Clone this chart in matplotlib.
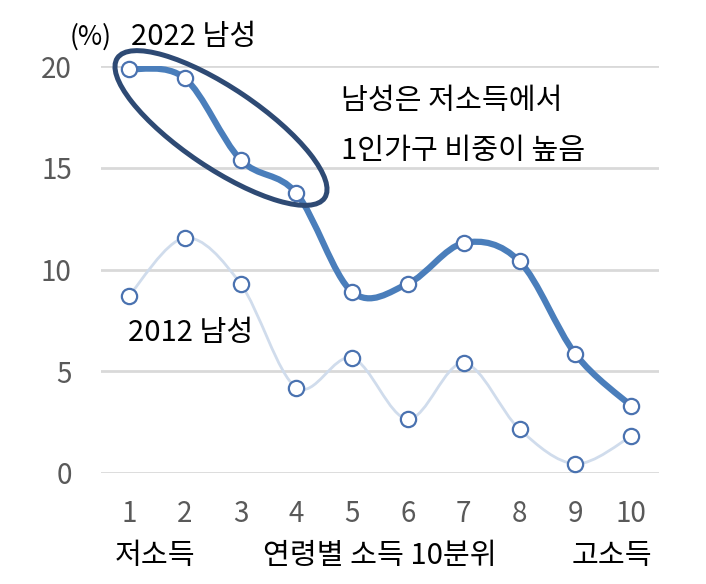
import numpy as np
import matplotlib.pyplot as plt
from matplotlib.path import Path
from matplotlib.patches import PathPatch, Ellipse
from matplotlib.transforms import Affine2D

plt.rcParams['font.family'] = ['Noto Sans CJK KR', 'DejaVu Sans']

deciles = [1, 2, 3, 4, 5, 6, 7, 8, 9, 10]
male_2022 = [19.85, 19.4, 15.4, 13.75, 8.9, 9.3, 11.3, 10.4, 5.85, 3.3]
male_2012 = [8.7, 11.55, 9.3, 4.2, 5.65, 2.65, 5.4, 2.15, 0.45, 1.8]
yticks = [0, 5, 10, 15, 20]


def smooth_path(xs, ys):
    # Excel-style smoothed line: cubic Bezier through the points
    p = np.column_stack([xs, ys]).astype(float)
    n = len(p)
    verts = [p[0]]
    codes = [Path.MOVETO]
    for i in range(n - 1):
        prev = p[i - 1] if i > 0 else p[i]
        nxt = p[i + 2] if i + 2 < n else p[i + 1]
        c1 = p[i] + (p[i + 1] - prev) / 6
        c2 = p[i + 1] - (nxt - p[i]) / 6
        verts += [c1, c2, p[i + 1]]
        codes += [Path.CURVE4] * 3
    return Path(verts, codes)


W, H = 706, 584
fig = plt.figure(figsize=(W / 100, H / 100), dpi=100)
ax_l, ax_r, ax_t, ax_b = 101, 659, 66, 473
ax = fig.add_axes([ax_l / W, 1 - ax_b / H, (ax_r - ax_l) / W, (ax_b - ax_t) / H])
ax.set_xlim(0.5, 10.5)
ax.set_ylim(0, 20)

for v in yticks:
    ax.axhline(v, color='#d9d9d9', lw=2, zorder=0)

ax.add_patch(PathPatch(smooth_path(deciles, male_2012), fill=False,
                       edgecolor='#d0dcec', lw=2, zorder=2))
ax.add_patch(PathPatch(smooth_path(deciles, male_2022), fill=False,
                       edgecolor='#4a7ebb', lw=4.5, zorder=3,
                       capstyle='round', joinstyle='round'))
ax.plot(deciles, male_2012, 'o', ms=11, mfc='white', mec='#4a72b0',
        mew=1.6, zorder=4, clip_on=False)
ax.plot(deciles, male_2022, 'o', ms=11, mfc='white', mec='#4a72b0',
        mew=1.6, zorder=5, clip_on=False)

# ellipse drawn in pixel units around deciles 1-4 of 2022
px_x = (ax_r - ax_l) / 10
px_y = (ax_b - ax_t) / 20
cx = 0.5 + (221 - ax_l) / px_x
cy = 20 - (128 - ax_t) / px_y
ell = Ellipse((0, 0), 250, 80, angle=-34, fill=False,
              edgecolor='#2e4a74', lw=3.6, zorder=6, clip_on=False)
ell.set_transform(Affine2D().scale(1 / px_x, 1 / px_y).translate(cx, cy)
                  + ax.transData)
ax.add_patch(ell)

ax.set_xticks(deciles)
ax.set_xticklabels([str(d) for d in deciles])
ax.set_yticks(yticks)
ax.tick_params(axis='both', length=0, labelsize=20, colors='#595959')
ax.tick_params(axis='x', pad=19)
ax.tick_params(axis='y', pad=21)
for s in ax.spines.values():
    s.set_visible(False)


def fx(px):
    return px / W


def fy(py):
    return 1 - py / H


fig.text(fx(70), fy(37), '(%)', fontsize=19, ha='left', va='center')
fig.text(fx(131), fy(37), '2022 남성', fontsize=21, ha='left', va='center')
fig.text(fx(128), fy(333), '2012 남성', fontsize=21, ha='left', va='center')
fig.text(fx(341), fy(101), '남성은 저소득에서', fontsize=21, ha='left', va='center')
fig.text(fx(341), fy(151), '1인가구 비중이 높음', fontsize=21, ha='left', va='center')
fig.text(fx(155), fy(556), '저소득', fontsize=21, ha='center', va='center')
fig.text(fx(380), fy(556), '연령별 소득 10분위', fontsize=21, ha='center', va='center')
fig.text(fx(612), fy(556), '고소득', fontsize=21, ha='center', va='center')

fig.savefig('out.png', dpi=100, facecolor='white')
